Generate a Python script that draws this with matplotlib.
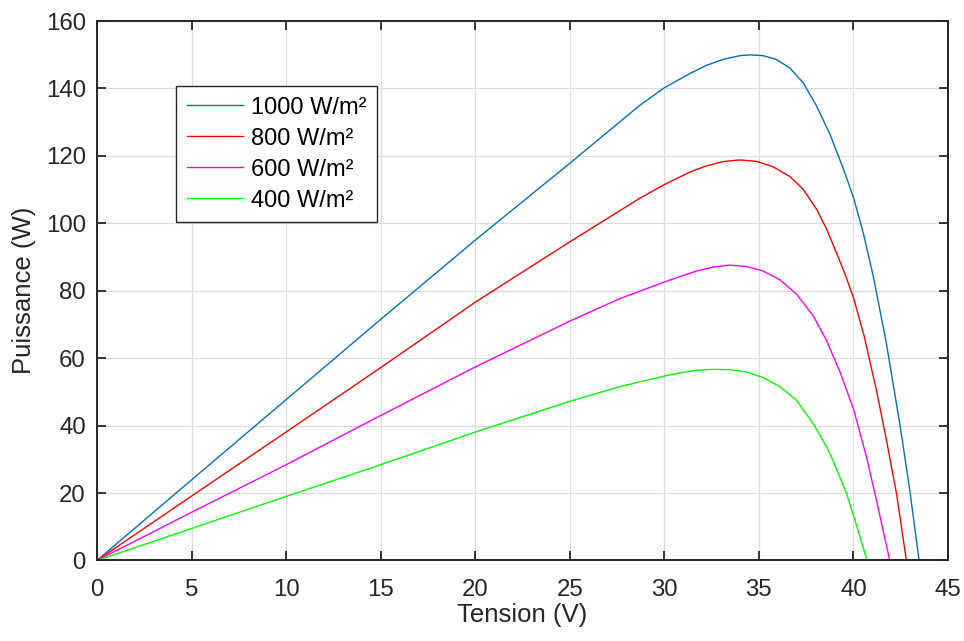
import matplotlib
matplotlib.use("Agg")
import matplotlib.pyplot as plt

# values (tension in V, power in W)
v_1000 = [0, 5, 10, 15, 20, 25, 28.7, 30, 31.31, 32.2, 33.09, 33.97, 34.5, 35.21, 35.92, 36.63,
          37.34, 38.05, 38.76, 39.47, 40.0, 40.53, 41.04, 41.71, 42.45, 42.98, 43.47]
p_1000 = [0, 23.9, 47.7, 71.5, 95.0, 117.8, 135.0, 140.2, 144.3, 146.8, 148.6, 149.7, 149.95, 149.75, 148.6, 146.1,
          141.7, 134.8, 126.4, 116.1, 107.7, 96.9, 84.5, 65.4, 40.6, 20.8, 0]

v_800 = [0, 5, 10, 15, 20, 25, 28.72, 30, 31.31, 32.2, 33.09, 33.97, 34.86, 35.74, 36.63,
         37.34, 38.05, 38.58, 39.1, 39.55, 40.0, 40.57, 41.22, 41.75, 42.28, 42.8]
p_800 = [0, 19.1, 38.1, 57.2, 76.6, 94.5, 107.5, 111.5, 115.1, 117.0, 118.3, 118.8, 118.4, 116.8, 113.9,
         110.1, 104.2, 98.3, 91.3, 85.0, 78.0, 66.5, 50.4, 35.6, 19.8, 0]

v_600 = [0, 5, 10, 15, 20, 25, 27.66, 30, 30.78, 31.67, 32.55, 33.44, 34.33, 35.21, 36.1,
         36.99, 37.87, 38.58, 39.29, 40.0, 40.69, 41.3, 41.92]
p_600 = [0, 14.3, 28.4, 43.0, 57.4, 71.0, 77.7, 82.6, 84.1, 85.8, 87.0, 87.6, 87.2, 85.9, 83.3,
         79.0, 72.6, 65.2, 55.9, 45.0, 30.7, 15.8, 0]

v_400 = [0, 5, 10, 15, 20, 25, 27.66, 30, 30.78, 31.67, 32.55, 33.44, 34.33, 35.21, 36.1,
         36.99, 37.87, 38.58, 38.93, 39.64, 40.16, 40.72]
p_400 = [0, 9.5, 19.0, 28.4, 38.1, 47.2, 51.6, 54.7, 55.6, 56.4, 56.7, 56.6, 55.9, 54.3, 51.6,
         47.5, 40.6, 33.7, 29.5, 19.8, 10.5, 0]

labels = ["1000 W/m²", "800 W/m²", "600 W/m²", "400 W/m²"]
colors = ["#0072BD", "#FF0000", "#FF00FF", "#00FF00"]

plt.rcParams["font.family"] = ["Liberation Sans", "DejaVu Sans"]

fig = plt.figure(figsize=(9.64, 6.41), dpi=100)
ax = fig.add_axes([0.1006, 0.1256, 0.8828, 0.8416])

series = [(v_1000, p_1000), (v_800, p_800), (v_600, p_600), (v_400, p_400)]
for (v, p), lab, c in zip(series, labels, colors):
    ax.plot(v, p, color=c, lw=1.0, label=lab)

ax.set_xlim(0, 45)
ax.set_ylim(0, 160)
ax.set_xticks(range(0, 46, 5))
ax.set_yticks(range(0, 161, 20))
ax.grid(True, color="#dcdcdc", lw=0.9)
ax.set_axisbelow(True)
ax.tick_params(direction="in", top=True, right=True, length=6.5, width=1.3,
               labelsize=17.3, colors="#262626")
ax.tick_params(axis="x", pad=13)
ax.tick_params(axis="y", pad=8)
for s in ax.spines.values():
    s.set_linewidth(1.4)
    s.set_color("#262626")

ax.set_xlabel("Tension (V)", fontsize=18.5, color="#262626", labelpad=2)
ax.set_ylabel("Puissance (W)", fontsize=18.5, color="#262626", labelpad=7)

leg = ax.legend(loc="upper left", bbox_to_anchor=(0.0928, 0.8795), borderaxespad=0,
                fontsize=17, fancybox=False, framealpha=1, edgecolor="#262626",
                handlelength=2.4, handletextpad=0.31, labelspacing=0.38, borderpad=0.45)
leg.get_frame().set_linewidth(1.0)

fig.savefig("out.png", dpi=100)
